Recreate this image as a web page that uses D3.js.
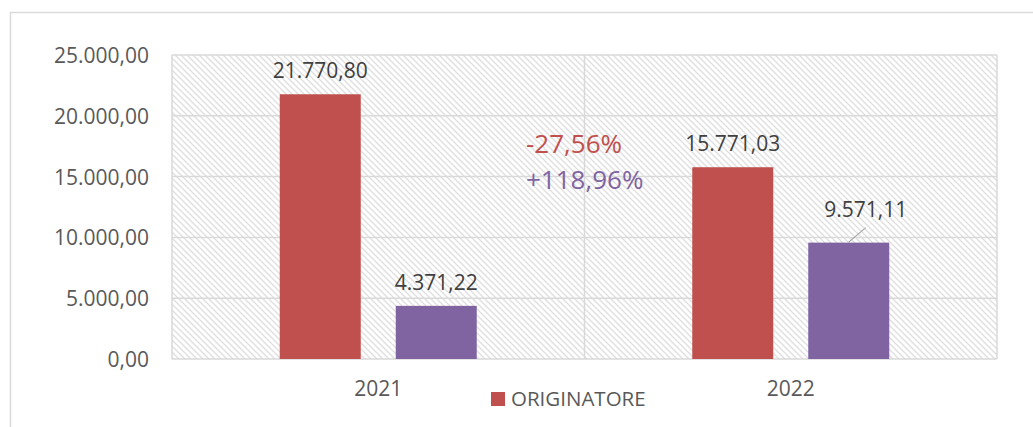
<!DOCTYPE html>
<html lang="it">
<head>
<meta charset="utf-8">
<script src="https://cdn.jsdelivr.net/npm/d3@7"></script>
<style>
  body { margin: 0; background: #fff; }
  text { font-family: "Open Sans", "Noto Sans", sans-serif; }
</style>
</head>
<body>
<div id="chart"></div>
<script>
// data
var years = ["2021", "2022"];
var series = ["ORIGINATORE", "ALTRO"];
var originatore = [21770.80, 15771.03];
var altro = [4371.22, 9571.11];
var yTicks = [0, 5000, 10000, 15000, 20000, 25000];
var changes = ["-27,56%", "+118,96%"];

var colors = { ORIGINATORE: "#C0504D", ALTRO: "#8064A2" };
var w = 1033, h = 427;
// plot area (note: "top" is reserved on window, so use pTop etc.)
var pLeft = 172, pRight = 997, pTop = 55, pBottom = 359;

var fmt = d3.formatLocale({ decimal: ",", thousands: ".", grouping: [3], currency: ["", "€"] }).format(",.2f");

var svg = d3.select("#chart").append("svg")
  .attr("width", w).attr("height", h);

// hatch pattern for plot background
var pat = svg.append("defs").append("pattern")
  .attr("id", "hatch")
  .attr("patternUnits", "userSpaceOnUse")
  .attr("width", 6).attr("height", 6);
pat.append("path")
  .attr("d", "M0,0L6,6M-3,3L3,9M3,-3L9,3")
  .attr("stroke", "#dedede")
  .attr("stroke-width", 1.3);

// outer chart border (cropped on right and bottom)
svg.append("rect")
  .attr("x", 10.5).attr("y", 12.5)
  .attr("width", 1100).attr("height", 600)
  .attr("fill", "none").attr("stroke", "#d9d9d9").attr("stroke-width", 1.5);

var x = d3.scaleBand().domain(years).range([pLeft, pRight]);
var xSub = d3.scaleBand().domain(series).range([0, x.bandwidth()])
  .paddingInner(0.3017).paddingOuter(0.929);
var y = d3.scaleLinear().domain([0, 25000]).range([pBottom, pTop]);

svg.append("rect")
  .attr("x", pLeft).attr("y", pTop)
  .attr("width", pRight - pLeft).attr("height", pBottom - pTop)
  .attr("fill", "url(#hatch)");

// horizontal gridlines
svg.selectAll(".hgrid").data(yTicks).enter().append("line")
  .attr("x1", pLeft).attr("x2", pRight)
  .attr("y1", function(d){ return y(d); }).attr("y2", function(d){ return y(d); })
  .attr("stroke", "#d9d9d9").attr("stroke-width", 1.5);

// vertical gridlines at category edges
var edges = years.map(function(d){ return x(d); }).concat([pRight]);
svg.selectAll(".vgrid").data(edges).enter().append("line")
  .attr("x1", function(d){ return d; }).attr("x2", function(d){ return d; })
  .attr("y1", pTop).attr("y2", pBottom)
  .attr("stroke", "#d9d9d9").attr("stroke-width", 1.5);

// y axis labels
var yAxis = d3.axisLeft(y).tickValues(yTicks).tickSize(0).tickPadding(23).tickFormat(fmt);
var ya = svg.append("g").attr("transform", "translate(" + pLeft + ",0)").call(yAxis);
ya.select(".domain").remove();
ya.selectAll("text").attr("font-size", 21).attr("fill", "#595959")
  .attr("font-family", "Open Sans, sans-serif").attr("dy", "0.36em");

// x axis labels
var xAxis = d3.axisBottom(x).tickSize(0).tickPadding(22);
var xa = svg.append("g").attr("transform", "translate(0," + pBottom + ")").call(xAxis);
xa.select(".domain").remove();
xa.selectAll("text").attr("font-size", 21).attr("fill", "#595959")
  .attr("font-family", "Open Sans, sans-serif");

// bars
var rows = [];
years.forEach(function(yr, i){
  rows.push({ year: yr, s: "ORIGINATORE", v: originatore[i] });
  rows.push({ year: yr, s: "ALTRO", v: altro[i] });
});

svg.selectAll(".bar").data(rows).enter().append("rect")
  .attr("x", function(d){ return x(d.year) + xSub(d.s); })
  .attr("y", function(d){ return y(d.v); })
  .attr("width", xSub.bandwidth())
  .attr("height", function(d){ return pBottom - y(d.v); })
  .attr("fill", function(d){ return colors[d.s]; });

// data labels (last one moved with a leader line)
var moved = { "2022ALTRO": [17, -10] };
rows.forEach(function(d){
  var cx = x(d.year) + xSub(d.s) + xSub.bandwidth() / 2;
  var by = y(d.v) - 16;
  var off = moved[d.year + d.s];
  if (off) {
    svg.append("line")
      .attr("x1", cx).attr("y1", y(d.v) - 0.5)
      .attr("x2", cx + off[0]).attr("y2", y(d.v) - 15)
      .attr("stroke", "#a6a6a6").attr("stroke-width", 1.2);
    cx += off[0]; by += off[1];
  }
  svg.append("text")
    .attr("x", cx).attr("y", by)
    .attr("text-anchor", "middle")
    .attr("font-size", 21).attr("fill", "#404040")
    .text(fmt(d.v));
});

// change annotations
svg.append("text").attr("x", 526).attr("y", 153)
  .attr("font-size", 26).attr("fill", colors.ORIGINATORE).text(changes[0]);
svg.append("text").attr("x", 526).attr("y", 189)
  .attr("font-size", 26).attr("fill", colors.ALTRO).text(changes[1]);

// legend (only first entry visible)
svg.append("rect").attr("x", 491).attr("y", 392).attr("width", 14).attr("height", 14)
  .attr("fill", colors.ORIGINATORE);
svg.append("text").attr("x", 511).attr("y", 406)
  .attr("font-size", 20.5).attr("fill", "#595959").text(series[0]);
</script>
</body>
</html>
